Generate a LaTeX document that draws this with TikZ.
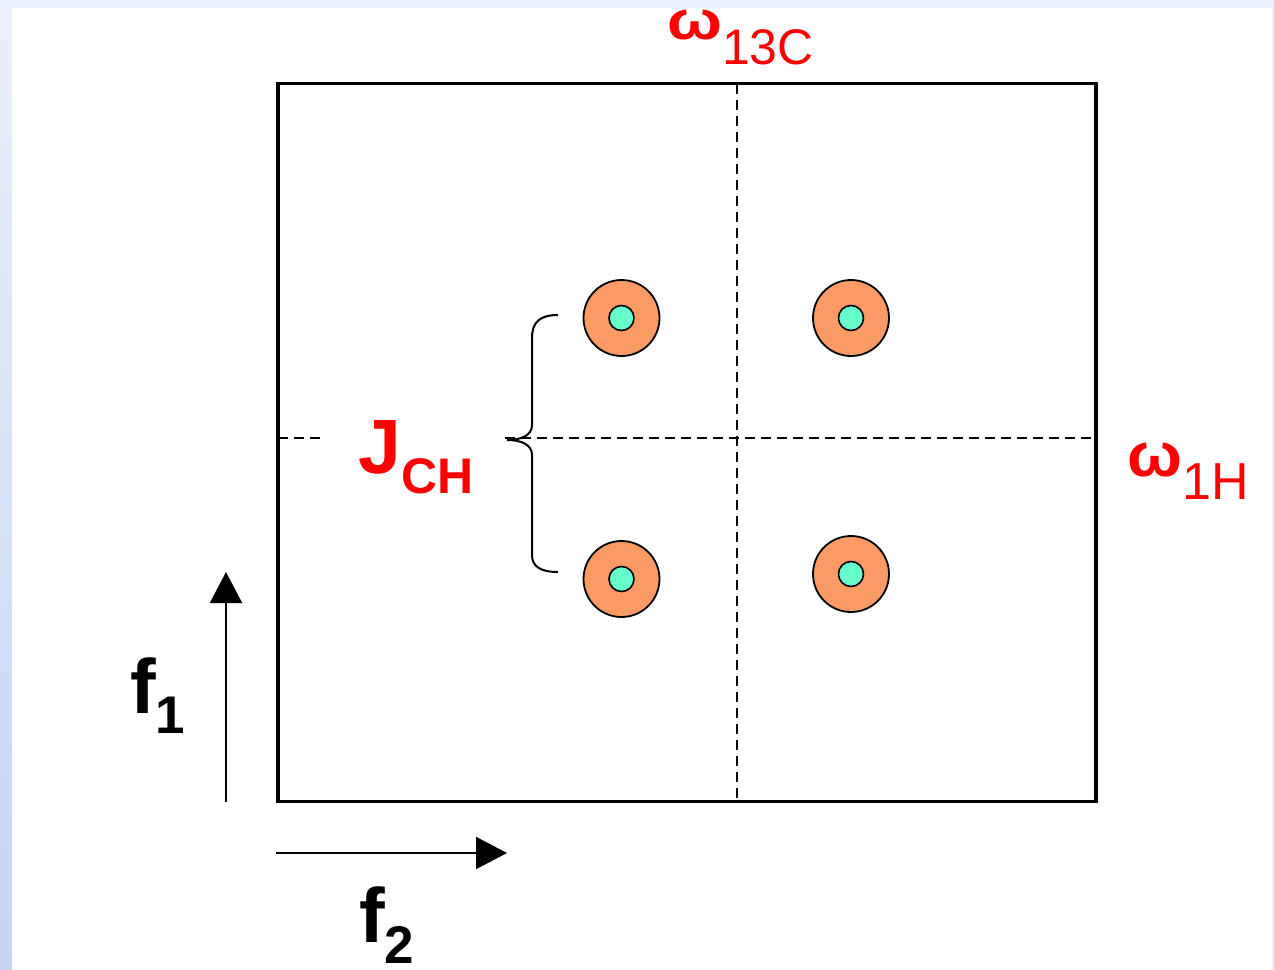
\documentclass[tikz,border=0pt]{standalone}
\usepackage{fontspec}
\setmainfont{Liberation Sans}
\usepackage{graphicx}
\usetikzlibrary{arrows.meta}
\definecolor{bgblue}{RGB}{234,240,251}
\definecolor{bgblue2}{RGB}{196,212,243}
\definecolor{peakorange}{RGB}{250,154,100}
\definecolor{peakteal}{RGB}{102,255,204}
\definecolor{lblred}{RGB}{255,0,0}
\tikzset{
  frame/.style={draw=black, line width=3.5pt},
  grid/.style={draw=black, line width=1.6pt, dash pattern=on 10pt off 6pt},
  outerpeak/.style={circle, draw=black, line width=1.8pt, fill=peakorange, minimum size=76pt, inner sep=0pt},
  innerpeak/.style={circle, draw=black, line width=1.6pt, fill=peakteal, minimum size=25pt, inner sep=0pt},
  axisarrow/.style={draw=black, line width=2pt, -{Triangle[length=31pt,width=32pt]}},
  lbl/.style={inner sep=0pt, anchor=base west},
  bracepath/.style={draw=black, line width=2pt}
}
\begin{document}
\begin{tikzpicture}[x=1pt,y=-1pt]
\useasboundingbox (0,0) rectangle (1274,969);
% background
\fill[bgblue] (0,0) rectangle (1274,969);
\shade[top color=bgblue, bottom color=bgblue2] (0,0) rectangle (12,969);
\fill[white] (12,8) rectangle (1272,969);
% frame
\draw[frame] (278,83.5) rectangle (1096,801.5);
% named points on the frame
\coordinate (vt) at (737,83.5);
\coordinate (vb) at (737,801.5);
\coordinate (hl) at (278,438);
\coordinate (hl2) at (326,438);
\coordinate (hr1) at (505,438);
\coordinate (hr) at (1096,438);
\draw[grid] (vt) -- (vb);
\draw[grid] (hl) -- (hl2);
\draw[grid] (hr1) -- (hr);
% peaks
\node[outerpeak] (p1) at (621.5,318) {};
\node[innerpeak] (q1) at (621.5,318) {};
\node[outerpeak] (p2) at (851,318) {};
\node[innerpeak] (q2) at (851,318) {};
\node[outerpeak] (p3) at (621.5,579) {};
\node[innerpeak] (q3) at (621.5,579) {};
\node[outerpeak] (p4) at (851,574) {};
\node[innerpeak] (q4) at (851,574) {};
% brace
\coordinate (bt) at (558,315);
\coordinate (bb) at (558,572);
\coordinate (btip) at (507,440);
\draw[bracepath] (bt) .. controls (540,315) and (532,322) .. (532,338) -- (532,425)
  .. controls (532,435) and (522,440) .. (btip)
  .. controls (522,440) and (532,445) .. (532,455) -- (532,555)
  .. controls (532,566) and (540,572) .. (bb);
% labels
\node[lbl, text=lblred] (w13c) at (667,39) {\fontsize{50}{50}\selectfont\scalebox{1.3}[1.1]{\bfseries ω}\raisebox{-25pt}{13C}};
\node[lbl, text=lblred] (w1h) at (1127,476) {\fontsize{52}{52}\selectfont\scalebox{1.25}[1.2]{\bfseries ω}\raisebox{-23pt}{1H}};
\node[lbl, text=lblred] (jch) at (358,473) {\bfseries\fontsize{77}{77}\selectfont J\fontsize{50}{50}\selectfont\raisebox{-20pt}{CH}};
% axis arrows
\coordinate (a1s) at (226,802);
\coordinate (a1e) at (226,572);
\coordinate (a2s) at (276,853);
\coordinate (a2e) at (507,853);
\draw[axisarrow] (a1s) -- (a1e);
\draw[axisarrow] (a2s) -- (a2e);
\node[lbl] (f1) at (130,713) {\bfseries\fontsize{77}{77}\selectfont f\fontsize{53}{53}\selectfont\raisebox{-20pt}{1}};
\node[lbl] (f2) at (359,942) {\bfseries\fontsize{77}{77}\selectfont f\fontsize{53}{53}\selectfont\raisebox{-21pt}{2}};
\end{tikzpicture}
\end{document}
